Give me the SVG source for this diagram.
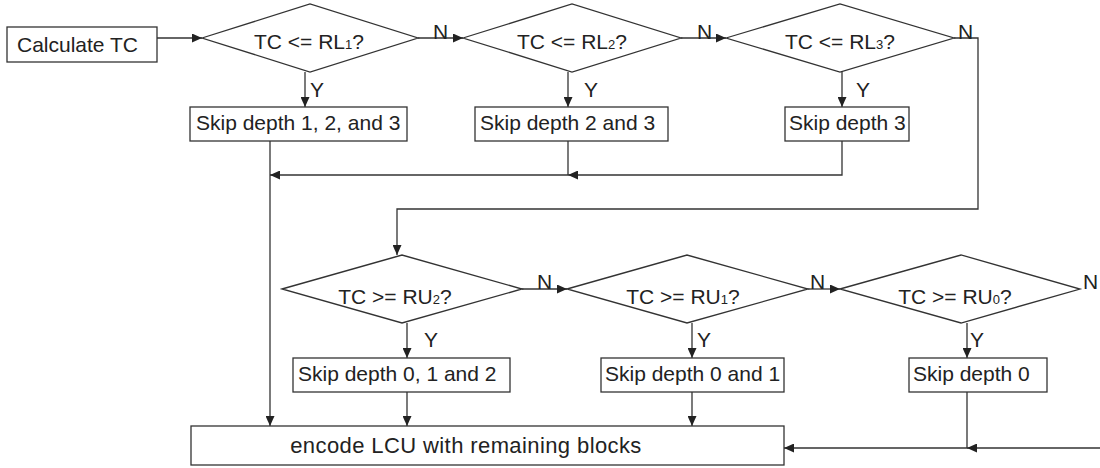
<svg xmlns="http://www.w3.org/2000/svg" width="1100" height="468" viewBox="0 0 1100 468">
  <defs>
    <marker id="arrow" markerWidth="10" markerHeight="9" refX="10" refY="4.5" orient="auto" markerUnits="userSpaceOnUse">
      <path d="M0,0 L10,4.5 L0,9 z" fill="#222"/>
    </marker>
    <style>
      .box { fill: #fff; stroke: #333; stroke-width: 1.3; }
      .dia { fill: #fff; stroke: #333; stroke-width: 1.3; }
      .ln { fill: none; stroke: #333; stroke-width: 1.3; }
      .arr { fill: none; stroke: #333; stroke-width: 1.3; marker-end: url(#arrow); }
      .t { font-family: "Liberation Sans", Arial, sans-serif; font-size: 21px; fill: #222; }
      .mid { text-anchor: middle; }
      .sub { font-size: 13px; }
      .wide { font-size: 22px; letter-spacing: 0.4px; }
    </style>
  </defs>

  <rect width="1100" height="468" fill="#fff"/>

  <!-- connectors -->
  <g id="connectors">
    <path class="arr" d="M157,38 H202"/>
    <path class="arr" d="M418,38 H463"/>
    <path class="arr" d="M681,38 H726"/>
    <path class="arr" d="M954,38 H978 V209 H397 V255"/>
    <path class="arr" d="M305,72 V107"/>
    <path class="arr" d="M568,72 V107"/>
    <path class="arr" d="M842,72 V107"/>
    <path class="arr" d="M270,141 V426"/>
    <path class="ln" d="M568,141 V175"/>
    <path class="arr" d="M842,141 V175 H568"/>
    <path class="arr" d="M568,175 H270"/>
    <path class="arr" d="M522,289 H567"/>
    <path class="arr" d="M808,289 H840"/>
    <path class="arr" d="M407,323 V358"/>
    <path class="arr" d="M692,323 V358"/>
    <path class="arr" d="M967,323 V358"/>
    <path class="arr" d="M407,392 V426"/>
    <path class="arr" d="M692,392 V426"/>
    <path class="arr" d="M967,392 V448 H784"/>
    <path class="arr" d="M1100,448 H967"/>

    <!-- branch labels -->
    <text class="t" x="433" y="39">N</text>
    <text class="t" x="697" y="39">N</text>
    <text class="t" x="958" y="39">N</text>
    <text class="t" x="310" y="97">Y</text>
    <text class="t" x="584" y="97">Y</text>
    <text class="t" x="856" y="97">Y</text>
    <text class="t" x="537" y="289">N</text>
    <text class="t" x="810" y="289">N</text>
    <text class="t" x="1083" y="289">N</text>
    <text class="t" x="424" y="347">Y</text>
    <text class="t" x="697" y="347">Y</text>
    <text class="t" x="970" y="347">Y</text>
  </g>

  <g id="calc">
    <rect class="box" x="7" y="27" width="150" height="35"/>
    <text class="t" x="17" y="52">Calculate TC</text>
  </g>

  <g id="rl1">
    <polygon class="dia" points="202,38 310,4 418,38 310,72"/>
    <text class="t mid" x="309" y="49">TC &lt;= RL<tspan class="sub">1</tspan>?</text>
  </g>
  <g id="rl2">
    <polygon class="dia" points="463,38 572,4 681,38 572,72"/>
    <text class="t mid" x="572" y="49">TC &lt;= RL<tspan class="sub">2</tspan>?</text>
  </g>
  <g id="rl3">
    <polygon class="dia" points="726,38 840,4 954,38 840,72"/>
    <text class="t mid" x="840" y="49">TC &lt;= RL<tspan class="sub">3</tspan>?</text>
  </g>

  <g id="skip123">
    <rect class="box" x="190" y="107" width="217" height="34"/>
    <text class="t" x="196" y="130">Skip depth 1, 2, and 3</text>
  </g>
  <g id="skip23">
    <rect class="box" x="475" y="107" width="193" height="34"/>
    <text class="t" x="480" y="130">Skip depth 2 and 3</text>
  </g>
  <g id="skip3">
    <rect class="box" x="785" y="107" width="124" height="34"/>
    <text class="t" x="789" y="130">Skip depth 3</text>
  </g>

  <g id="ru2">
    <polygon class="dia" points="282,289 402,255 522,289 402,323"/>
    <text class="t mid" x="395" y="304">TC &gt;= RU<tspan class="sub">2</tspan>?</text>
  </g>
  <g id="ru1">
    <polygon class="dia" points="567,289 687,255 808,289 687,323"/>
    <text class="t mid" x="683" y="304">TC &gt;= RU<tspan class="sub">1</tspan>?</text>
  </g>
  <g id="ru0">
    <polygon class="dia" points="840,289 961,255 1080,289 961,323"/>
    <text class="t mid" x="955" y="304">TC &gt;= RU<tspan class="sub">0</tspan>?</text>
  </g>

  <g id="skip012">
    <rect class="box" x="293" y="358" width="217" height="34"/>
    <text class="t" x="298" y="381">Skip depth 0, 1 and 2</text>
  </g>
  <g id="skip01">
    <rect class="box" x="601" y="358" width="183" height="34"/>
    <text class="t" x="605" y="381">Skip depth 0 and 1</text>
  </g>
  <g id="skip0">
    <rect class="box" x="909" y="358" width="138" height="34"/>
    <text class="t" x="913" y="381">Skip depth 0</text>
  </g>

  <g id="encode">
    <rect class="box" x="191" y="426" width="593" height="39"/>
    <text class="t mid wide" x="466" y="453">encode LCU with remaining blocks</text>
  </g>
</svg>
